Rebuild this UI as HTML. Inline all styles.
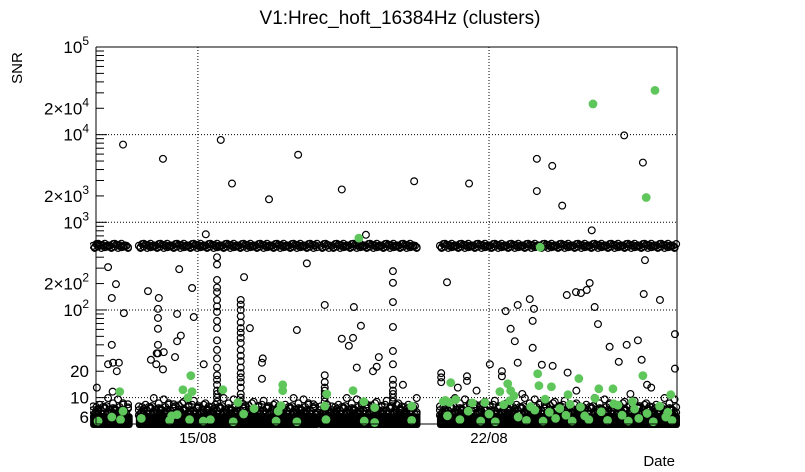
<!DOCTYPE html>
<html><head><meta charset="utf-8"><style>
html,body{margin:0;padding:0;background:#fff;}
svg{display:block;font-family:"Liberation Sans",sans-serif;}
</style></head><body>
<svg id="chart" width="805" height="472" viewBox="0 0 805 472" xmlns="http://www.w3.org/2000/svg">
<rect x="0" y="0" width="805" height="472" fill="#fff"/>
<text x="400" y="24" text-anchor="middle" font-size="19">V1:Hrec_hoft_16384Hz (clusters)</text>
<text transform="translate(22,68) rotate(-90)" text-anchor="middle" font-size="15">SNR</text>
<text x="675" y="466" text-anchor="end" font-size="15">Date</text>
<g id="grid"></g>
<g id="ticks"></g>
<g id="xticks"></g>
<clipPath id="cp"><rect x="90" y="40" width="592" height="392"/></clipPath>
<g id="marks" clip-path="url(#cp)"></g>
<g id="frame"></g>
</svg>
<script>
// x in days relative to 15/08 00:00, y = SNR (log scale)
const xDomain = [-2.45, 11.52];
const yDomain = [5, 100000];
const xTickDays = [0, 7];
const xTickLabels = ["15/08", "22/08"];
const yMajorValues = [10, 100, 1000, 10000, 100000];
const yLabelValues = [6, 10, 20, 100, 200, 1000, 2000, 10000, 20000, 100000];
// observation segments (start day, end day)
const segStart = [-2.52, -1.42, 2.95, 3.22, 5.82];
const segEnd = [-1.64, 2.87, 3.19, 5.28, 11.52];
// top of dense low-SNR band, cycled along segments
const bandTop = [7.2, 6.6, 7.8, 6.9, 8.3, 7.0, 6.5, 7.5, 8.0, 6.8, 7.3, 6.7, 8.6, 7.1];
// ~550 SNR population levels, cycled
const lineLevels = [540, 520, 565, 530, 555, 510, 548, 570, 525, 545];
// spike columns
const spikeDays = [0.46, 1.03, 3.05, 4.69, -0.96];
const spikeValues = [
 [400,330,220,180,160,130,110,95,75,62,45,35,28,22,18,16,14,12,11,10,9],
 [130,115,100,85,72,62,55,48,42,35,30,26,22,19,17,15,13,11,10,9],
 [18,15,13,12,11,10,9],
 [277,204,123,64,34,24,16,14,12,11,10,9],
 [103,81,61,40,32]
];
// isolated open (black) clusters
const outDays = [-1.80,-0.84,0.55,0.82,1.71,2.41,3.46,5.20,6.52,8.15,8.52,8.76,8.15,10.25,10.70,0.19,4.04,9.47,
 -2.16,-1.97,-2.07,-1.78,-2.07,-2.16,-2.04,-1.90,-1.95,-2.43,-2.05,-1.20,-0.94,-0.99,-0.82,-1.0,-1.13,-0.84,
 -0.45,-0.5,-0.41,-0.5,-0.55,-0.14,-0.10,0.14,1.11,0.55,2.62,3.05,3.75,5.99,2.38,3.92,3.46,3.73,3.63,3.82,
 1.25,1.56,1.54,1.54,4.35,4.30,4.21,4.93,10.75,10.72,11.11,8.87,9.09,9.21,9.35,9.42,9.54,9.62,7.40,7.69,7.98,
 8.08,8.05,8.05,7.52,7.62,7.69,7.02,8.27,8.53,9.90,10.31,10.58,10.12,10.67,11.47,11.47,7.31,7.31,6.47,6.47,8.89,
 5.85,5.85,5.85,6.25,6.7,7.8,9.1,10.4,10.8,10.9];
const outValues = [7700,5300,8700,2770,1830,5900,2370,2940,2770,5300,4400,1550,2270,9800,4800,730,720,810,
 308,197,137,92,40,24,25,25,20,13,11.7,164,137,32,33,24,27,21,
 292,90,51,44,29,178,83,24,237,12,340,114,108,207,59,66,47,48,39,22,
 62,28,25,16.4,29,22.5,20,14,370,152,130,148,160,156,169,203,108,69,97,114,133,
 103,75,37,61,44,25,24,23.7,23,38,40,45,25.6,27,53,21.4,20,17.5,17.5,15.5,19.3,
 19,17,15,13,12,11,12,11,14,13];
// green (filled) clusters
const grDays = [9.50,10.99,10.78,8.23,3.87,-1.88,-1.80,-2.07,-2.40,-1.86,-0.17,-0.36,-0.14,-0.24,0.60,0.96,
 -1.36,-0.63,-0.68,-0.5,-0.2,0.13,0.85,0.30,1.10,1.35,2.04,2.04,2.0,1.93,1.88,3.1,3.05,3.08,3.73,3.99,4.25,2.38,
 4.0,4.25,5.14,5.14,6.08,5.90,6.05,8.17,8.20,8.50,9.16,8.90,7.45,7.52,7.60,9.98,11.37,7.26,10.7,9.64,
 6.0,6.3,6.5,6.8,7.0,7.15,7.35,7.7,7.9,8.1,8.3,8.45,8.6,8.7,8.85,9.0,9.2,9.3,9.4,9.7,9.85,10.0,10.2,10.35,
 10.5,10.6,10.8,10.95,11.1,11.25,11.4,6.2,6.9,7.5,8.0,8.35,8.95,9.55,10.1,10.45,11.3,5.95,6.6];
const grValues = [22400,32000,1920,520,660,11.7,7,6,5.4,5.6,17.8,12.3,11.7,10,12.3,8.8,
 5.8,6.2,5.5,6.4,5.6,5.4,5.3,5.6,6.5,7.5,14,12,8.1,7,5.4,11,8,5.6,12,9,7.7,5.3,
 5.4,5.2,8,5.5,14.8,9,8.8,18.7,13.7,13.3,16.5,10.8,14.4,12,10.5,12.6,10.8,11.7,17.8,12.6,
 6.2,5.6,7,5.4,6.5,5.3,8.3,6,5.5,7.2,5.4,6.8,5.8,7.5,6.3,5.4,7.8,6.2,5.6,6.9,5.5,8.5,6.3,5.4,
 7.4,5.8,6.6,5.3,8,6,5.5,9.5,8.8,9.2,7.9,9.6,8.4,9.8,8.2,9,6.8,9.3,8.7];

const NS = "http://www.w3.org/2000/svg";
const L = 96, R = 677, T = 47, B = 424;
function xS(d){ return L + (d - xDomain[0]) / (xDomain[1] - xDomain[0]) * (R - L); }
const ly0 = Math.log10(yDomain[0]), ly1 = Math.log10(yDomain[1]);
function yS(v){ return B - (Math.log10(v) - ly0) / (ly1 - ly0) * (B - T); }
function mk(tag, attrs, parent){ const e = document.createElementNS(NS, tag); for (const k in attrs) e.setAttribute(k, attrs[k]); parent.appendChild(e); return e; }

const grid = document.getElementById('grid');
const ticks = document.getElementById('ticks');
const xt = document.getElementById('xticks');
const marks = document.getElementById('marks');
const frame = document.getElementById('frame');

yMajorValues.forEach(v => {
  const g = mk('line', {x1:L, x2:R, y1:yS(v), y2:yS(v), stroke:'#000', 'stroke-width':1, 'stroke-dasharray':'1,2'}, grid);
  
  
});
xTickDays.forEach((d, i) => {
  const g = mk('line', {x1:xS(d), x2:xS(d), y1:T, y2:B, stroke:'#000', 'stroke-width':1, 'stroke-dasharray':'1,2'}, grid);
  
  
  const t = mk('text', {x:xS(d), y:443, 'text-anchor':'middle', 'font-size':15}, xt);
  t.textContent = xTickLabels[i];
  
  
});
for (let e = 0; e <= 5; e++) {
  for (let m = 1; m <= 9; m++) {
    const v = m * Math.pow(10, e);
    if (v < yDomain[0] || v > yDomain[1]) continue;
    const len = (m === 1) ? 11 : 8;
    const tk = mk('line', {x1:L, x2:L + len, y1:yS(v), y2:yS(v), stroke:'#000', 'stroke-width':1}, ticks);
    
    
  }
}
yLabelValues.forEach(v => {
  const e = Math.floor(Math.log10(v) + 1e-9), m = Math.round(v / Math.pow(10, e));
  const t = mk('text', {x:89, y:yS(v) + 6, 'text-anchor':'end', 'font-size':17}, ticks);
  
  
  if (v < 100) { t.textContent = String(v); }
  else {
    const pre = (m === 1) ? '10' : (m + '\u00d710');
    t.appendChild(document.createTextNode(pre));
    const s = mk('tspan', {dy:-8, 'font-size':12}, t);
    s.textContent = String(e);
  }
});

function openPt(d, v, name){
  const c = mk('circle', {cx:xS(d), cy:yS(v), r:3.4, fill:'none', stroke:'#000', 'stroke-width':1.2}, marks);
  
  
}
for (let s = 0; s < segStart.length; s++) {
  const rc = mk('rect', {x:xS(segStart[s]) - 3, y:yS(6.6), width:xS(segEnd[s]) - xS(segStart[s]) + 6, height:B + 4 - yS(6.6), rx:3, fill:'#000'}, marks);
  
  
  let i = 0;
  for (let d = segStart[s]; d <= segEnd[s]; d += 0.04, i++) {
    openPt(d, bandTop[i % bandTop.length], 'band-cluster');
    openPt(d, bandTop[(i + 5) % bandTop.length] * 0.9, 'band-cluster');
    if (i % 3 === 0) openPt(d, bandTop[(i + 3) % bandTop.length] * 1.15, 'band-cluster');
    openPt(d, lineLevels[i % lineLevels.length], 'line-cluster');
    if (i % 2 === 1) openPt(d, lineLevels[(i + 4) % lineLevels.length], 'line-cluster');
  }
}
spikeDays.forEach((d, i) => spikeValues[i].forEach(v => openPt(d, v, 'spike-cluster')));
outDays.forEach((d, i) => openPt(d, outValues[i], 'cluster-point'));
grDays.forEach((d, i) => {
  const c = mk('circle', {cx:xS(d), cy:yS(grValues[i]), r:4.4, fill:'#5ec65a'}, marks);
  
  
});
mk('line', {x1:L, x2:R, y1:T, y2:T, stroke:'#000'}, frame);
mk('line', {x1:L, x2:L, y1:T, y2:B, stroke:'#000'}, frame);
mk('line', {x1:R, x2:R, y1:T, y2:B, stroke:'#000'}, frame);
mk('line', {x1:L, x2:R, y1:B, y2:B, stroke:'#000'}, frame);
</script>
</body></html>
